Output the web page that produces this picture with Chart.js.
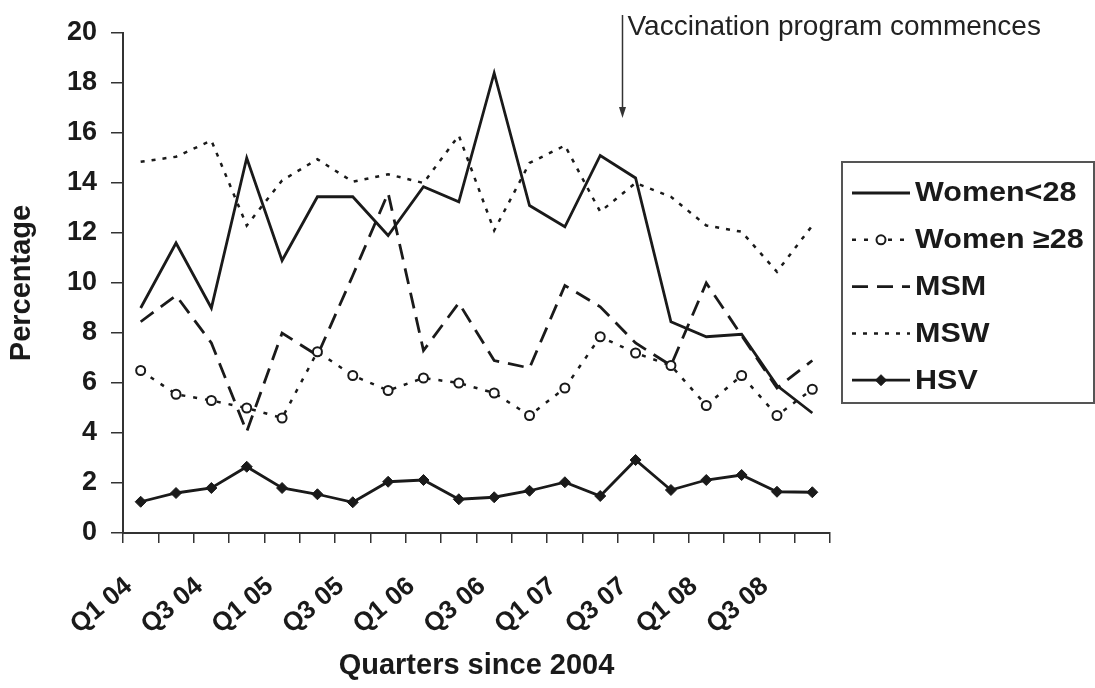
<!DOCTYPE html>
<html><head><meta charset="utf-8">
<script src="https://cdn.jsdelivr.net/npm/chart.js@4.4.1/dist/chart.umd.min.js"></script>
<style>html,body{margin:0;padding:0;background:#fff;}</style>
</head><body>
<canvas id="c" width="1095" height="688"></canvas>
<script>
// ---- data ----
const quarters = ['Q1 04','Q2 04','Q3 04','Q4 04','Q1 05','Q2 05','Q3 05','Q4 05',
                  'Q1 06','Q2 06','Q3 06','Q4 06','Q1 07','Q2 07','Q3 07','Q4 07',
                  'Q1 08','Q2 08','Q3 08','Q4 08'];
const shownTickLabels = ['Q1 04','Q3 04','Q1 05','Q3 05','Q1 06','Q3 06','Q1 07','Q3 07','Q1 08','Q3 08'];
const seriesNames = ['Women<28','Women \u226528','MSM','MSW','HSV'];
const womenUnder28 = [9.0,11.6,9.0,15.0,10.9,13.45,13.45,11.9,13.85,13.25,18.4,13.1,12.25,15.1,14.2,8.45,7.85,7.95,5.9,4.8];
const womenOver28  = [6.5,5.55,5.3,5.0,4.6,7.25,6.3,5.7,6.2,6.0,5.6,4.7,5.8,7.85,7.2,6.7,5.1,6.3,4.7,5.75];
const msm          = [8.45,9.5,7.6,4.05,8.0,7.1,10.3,13.6,7.3,9.2,6.9,6.6,9.9,9.05,7.6,6.7,10.0,7.9,5.8,6.9];
const msw          = [14.85,15.05,15.7,12.3,14.1,14.95,14.05,14.35,14.0,15.9,12.1,14.8,15.5,12.85,14.0,13.45,12.3,12.05,10.45,12.3];
const hsv          = [1.25,1.6,1.8,2.65,1.8,1.55,1.23,2.05,2.12,1.35,1.43,1.69,2.03,1.48,2.92,1.72,2.12,2.32,1.65,1.63];
const yMin = 0, yMax = 20, yStep = 2;
const annotationText = 'Vaccination program commences';
const annotationPosition = 13.63; // position on the quarter axis (index units)

const INK = '#1a1a1a';
const FONT = "'Liberation Sans', Arial, sans-serif";

const datasets = [
  {label: seriesNames[0], data: womenUnder28, borderColor: INK, borderWidth: 2.8, pointRadius: 0},
  {label: seriesNames[1], data: womenOver28, borderColor: INK, borderWidth: 2.5, borderDash: [4,8],
   pointStyle: 'circle', pointRadius: 4.5, pointBackgroundColor: '#fff', pointBorderColor: INK, pointBorderWidth: 2},
  {label: seriesNames[2], data: msm, borderColor: INK, borderWidth: 2.8, borderDash: [16,9], pointRadius: 0},
  {label: seriesNames[3], data: msw, borderColor: INK, borderWidth: 2.5, borderDash: [4,7], pointRadius: 0},
  {label: seriesNames[4], data: hsv, borderColor: INK, borderWidth: 2.8,
   pointStyle: 'rectRot', pointRadius: 5.5, pointBackgroundColor: INK, pointBorderColor: INK, pointBorderWidth: 1}
];

const legendPlugin = {
  id: 'boxLegend',
  afterDraw(chart) {
    const ctx = chart.ctx;
    ctx.save();
    const bx = 842, by = 162, bw = 252, bh = 241;
    ctx.strokeStyle = '#555'; ctx.lineWidth = 2; ctx.setLineDash([]);
    ctx.strokeRect(bx, by, bw, bh);
    const rowY0 = 193, rowGap = 46.8, x1 = 852, x2 = 910, tx = 915;
    chart.data.datasets.forEach((ds, i) => {
      const y = rowY0 + i * rowGap;
      ctx.strokeStyle = ds.borderColor; ctx.lineWidth = ds.borderWidth;
      ctx.setLineDash(ds.borderDash || []);
      ctx.beginPath(); ctx.moveTo(x1, y); ctx.lineTo(x2, y); ctx.stroke();
      ctx.setLineDash([]);
      if (ds.pointRadius > 0) {
        const cx = (x1 + x2) / 2, r = ds.pointRadius;
        ctx.fillStyle = ds.pointBackgroundColor; ctx.strokeStyle = ds.pointBorderColor; ctx.lineWidth = ds.pointBorderWidth;
        ctx.beginPath();
        if (ds.pointStyle === 'circle') ctx.arc(cx, y, r, 0, Math.PI * 2);
        else { ctx.moveTo(cx, y - r); ctx.lineTo(cx + r, y); ctx.lineTo(cx, y + r); ctx.lineTo(cx - r, y); ctx.closePath(); }
        ctx.fill(); ctx.stroke();
      }
      ctx.save();
      ctx.translate(tx, y + 1);
      ctx.scale(1.13, 1);
      ctx.fillStyle = INK; ctx.font = "bold 27px " + FONT;
      ctx.textAlign = 'left'; ctx.textBaseline = 'middle';
      ctx.fillText(ds.label, 0, 0);
      ctx.restore();
    });
    ctx.restore();
  }
};

const annotationPlugin = {
  id: 'vaccArrow',
  afterDraw(chart) {
    const ctx = chart.ctx;
    const x = chart.scales.x.getPixelForValue(annotationPosition);
    ctx.save();
    ctx.strokeStyle = '#333'; ctx.fillStyle = '#333'; ctx.lineWidth = 1.5;
    ctx.beginPath(); ctx.moveTo(x, 15); ctx.lineTo(x, 110); ctx.stroke();
    ctx.beginPath(); ctx.moveTo(x - 3.5, 107); ctx.lineTo(x + 3.5, 107); ctx.lineTo(x, 118); ctx.closePath(); ctx.fill();
    ctx.fillStyle = '#222'; ctx.font = "28px " + FONT; ctx.textAlign = 'left'; ctx.textBaseline = 'alphabetic';
    ctx.fillText(annotationText, x + 5, 35);
    ctx.restore();
  }
};

new Chart(document.getElementById('c'), {
  type: 'line',
  data: {labels: quarters, datasets: datasets},
  options: {
    responsive: false, animation: false,
    layout: {padding: {left: 0, top: 33, right: 265, bottom: 0}},
    elements: {line: {tension: 0, fill: false}},
    plugins: {legend: {display: false}, tooltip: {enabled: false}},
    scales: {
      x: {
        type: 'category', offset: true,
        grid: {display: true, drawOnChartArea: false, drawTicks: true, tickLength: 10, offset: true, color: '#333', lineWidth: 1.5},
        border: {display: true, color: '#333', width: 2},
        ticks: {autoSkip: false, minRotation: 40, maxRotation: 40, padding: 28, labelOffset: -12, color: INK,
          font: {family: FONT, size: 26, weight: 'bold'},
          callback: (v, i) => shownTickLabels.includes(quarters[i]) ? quarters[i] : ''},
        title: {display: true, text: 'Quarters since 2004', color: INK,
          font: {family: FONT, size: 29, weight: 'bold'}, padding: {top: 0, bottom: 5}},
        afterFit: s => { s.height = 155; }
      },
      y: {
        min: yMin, max: yMax,
        grid: {display: true, drawOnChartArea: false, drawTicks: true, tickLength: 12, color: '#333', lineWidth: 1.5},
        border: {display: true, color: '#333', width: 2},
        ticks: {stepSize: yStep, padding: 14, color: INK, font: {family: FONT, size: 27, weight: 'bold'}},
        title: {display: true, text: 'Percentage', color: INK,
          font: {family: FONT, size: 29, weight: 'bold'}, padding: {top: 5, bottom: 0}},
        afterFit: s => { s.width = 123; }
      }
    }
  },
  plugins: [legendPlugin, annotationPlugin]
});
</script>
</body></html>
